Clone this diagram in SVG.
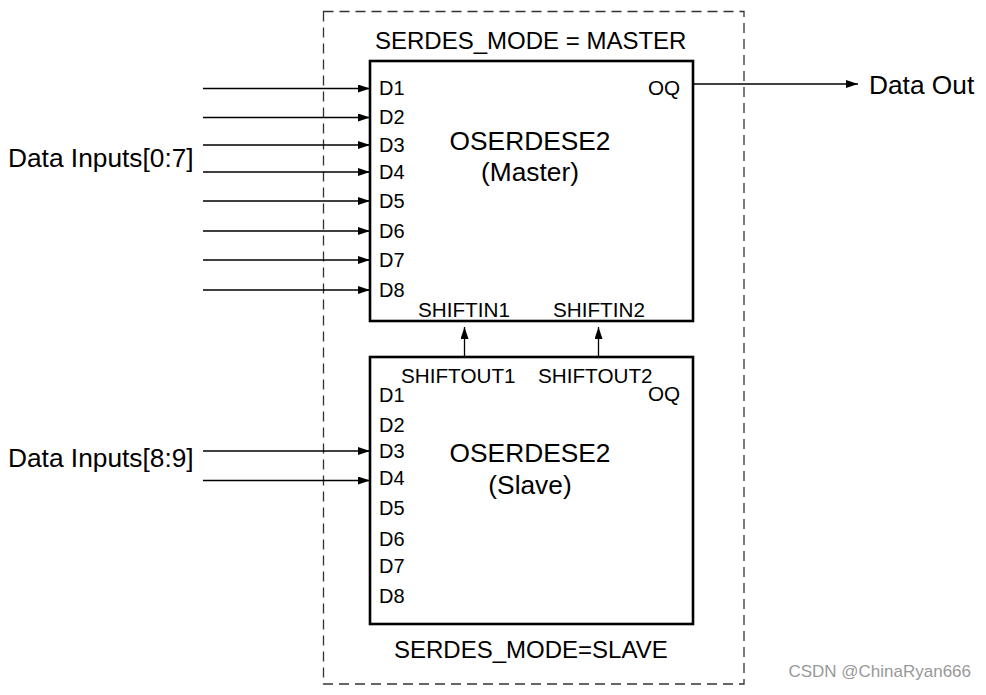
<svg xmlns="http://www.w3.org/2000/svg" width="986" height="695" viewBox="0 0 986 695">
<defs>
<marker id="ah" markerWidth="12" markerHeight="8" refX="12" refY="4" orient="auto" markerUnits="userSpaceOnUse">
<path d="M0,0 L12,4 L0,8 Z" fill="#000"/>
</marker>
<style>
text{font-family:"Liberation Sans",Arial,sans-serif;fill:#000}
.pin{font-size:20.7px}
.d{font-size:20px}
.big{font-size:26.3px}
.mode{font-size:24px}
.blk{fill:#fff;stroke:#000;stroke-width:2.6}
.wire{stroke:#000;stroke-width:1.3;fill:none;marker-end:url(#ah)}
.dash{fill:none;stroke:#333;stroke-width:1.3;stroke-dasharray:10 6}
</style>
</defs>
<rect width="986" height="695" fill="#fff"/>
<g id="boundary">
<rect class="dash" x="323.5" y="11.5" width="420.5" height="672.5"/>
<text class="mode" x="375" y="49">SERDES_MODE = MASTER</text>
<text class="mode" x="394" y="658">SERDES_MODE=SLAVE</text>
</g>
<g id="master">
<rect class="blk" x="370" y="61" width="323" height="260"/>
<text class="big" x="530" y="150" text-anchor="middle">OSERDESE2</text>
<text class="big" x="530" y="181" text-anchor="middle">(Master)</text>
<text class="d" x="379" y="95">D1</text>
<text class="d" x="379" y="124">D2</text>
<text class="d" x="379" y="152">D3</text>
<text class="d" x="379" y="179">D4</text>
<text class="d" x="379" y="208">D5</text>
<text class="d" x="379" y="238">D6</text>
<text class="d" x="379" y="267">D7</text>
<text class="d" x="379" y="297">D8</text>
<text class="pin" x="648" y="95">OQ</text>
<text class="pin" x="418" y="317">SHIFTIN1</text>
<text class="pin" x="553" y="317">SHIFTIN2</text>
</g>
<g id="slave">
<rect class="blk" x="370" y="357" width="323" height="267"/>
<text class="big" x="530" y="462" text-anchor="middle">OSERDESE2</text>
<text class="big" x="530" y="494" text-anchor="middle">(Slave)</text>
<text class="pin" x="401" y="383">SHIFTOUT1</text>
<text class="pin" x="538" y="383">SHIFTOUT2</text>
<text class="pin" x="648" y="401">OQ</text>
<text class="d" x="379" y="402">D1</text>
<text class="d" x="379" y="432">D2</text>
<text class="d" x="379" y="458">D3</text>
<text class="d" x="379" y="485">D4</text>
<text class="d" x="379" y="515">D5</text>
<text class="d" x="379" y="546">D6</text>
<text class="d" x="379" y="573">D7</text>
<text class="d" x="379" y="603">D8</text>
</g>
<g id="labels">
<text class="big" x="8" y="167">Data Inputs[0:7]</text>
<text class="big" x="8" y="467">Data Inputs[8:9]</text>
<text class="big" x="869" y="94">Data Out</text>
</g>
<g id="connectors">
<line class="wire" x1="203" y1="88.5" x2="370" y2="88.5"/>
<line class="wire" x1="203" y1="117.5" x2="370" y2="117.5"/>
<line class="wire" x1="203" y1="145" x2="370" y2="145"/>
<line class="wire" x1="203" y1="172" x2="370" y2="172"/>
<line class="wire" x1="203" y1="201" x2="370" y2="201"/>
<line class="wire" x1="203" y1="231" x2="370" y2="231"/>
<line class="wire" x1="203" y1="260" x2="370" y2="260"/>
<line class="wire" x1="203" y1="290" x2="370" y2="290"/>
<line class="wire" x1="203" y1="451" x2="370" y2="451"/>
<line class="wire" x1="203" y1="480.5" x2="370" y2="480.5"/>
<line class="wire" x1="694" y1="84" x2="858" y2="84"/>
<line class="wire" x1="464.5" y1="356" x2="464.5" y2="327"/>
<line class="wire" x1="598.5" y1="356" x2="598.5" y2="327"/>
</g>
<text x="971" y="677" text-anchor="end" style="font-size:17px;fill:#999">CSDN @ChinaRyan666</text>
</svg>
